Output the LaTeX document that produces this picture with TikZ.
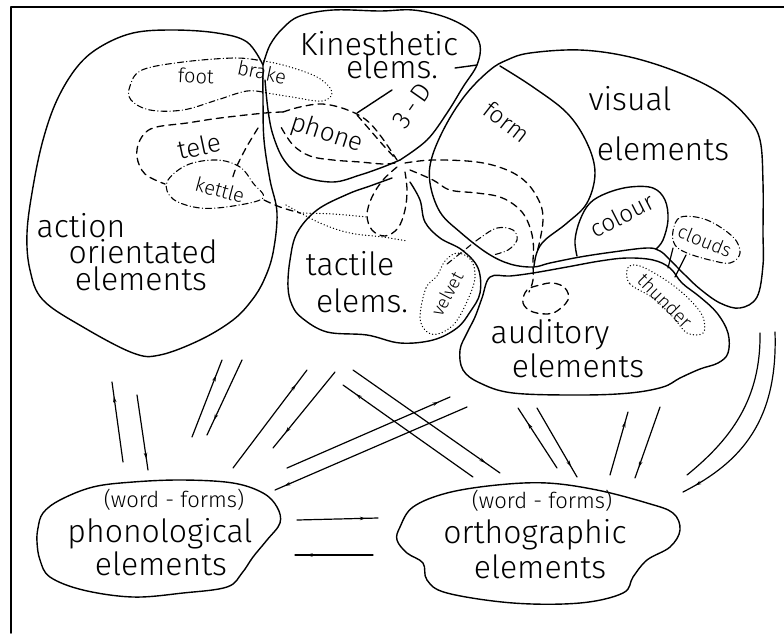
\documentclass[tikz,border=0pt]{standalone}
\usepackage{fontspec}
\setmainfont{Fira Sans}[UprightFont=* Light]
\usetikzlibrary{decorations.markings,arrows.meta}
\begin{document}
\begin{tikzpicture}[x=1pt,y=-1pt,line cap=round,line join=round,
  blob/.style={line width=1.4pt},
  dsh/.style={line width=1.3pt,dash pattern=on 7pt off 5pt},
  ddot/.style={line width=1.1pt,dash pattern=on 6pt off 3pt on 0.3pt off 3pt},
  dots/.style={line width=1.2pt,dash pattern=on 0.3pt off 3pt},
  big/.style={font=\fontsize{32}{32}\selectfont, inner sep=0pt, anchor=base},
  wf/.style={font=\fontsize{22}{22}\selectfont, inner sep=0pt, anchor=base},
  small/.style={font=\fontsize{#1}{#1}\selectfont, inner sep=0pt},
  arr/.style={line width=1.2pt, postaction={decorate},
    decoration={markings, mark=at position #1 with {\arrow{Stealth[length=6pt,width=3.5pt]}}}},
  pl/.style={line width=1.2pt}]
\useasboundingbox (0,0) rectangle (784,633);
% frame
\draw[line width=1.5pt] (11,633) -- (11,7) -- (784,7);

% action oriented elements
\draw[blob] plot[smooth,tension=0.6] coordinates {(263,65) (247,42) (217,33) (173,30) (133,33) (100,47) (77,67) (57,100) (43,140) (33,187) (27,233) (30,270) (43,300) (83,327) (133,353) (160,355) (200,340) (233,320) (252,300) (264,280) (273,253) (277,213) (270,180) (264,140) (263,100) (263,65)};
% kinesthetic
\draw[blob] plot[smooth,tension=0.6] coordinates {(263,65) (270,45) (283,28) (300,16) (333,10) (380,11) (413,10) (445,17) (470,30) (480,45) (477,65) (463,87) (447,113) (427,140) (400,160)};
\draw[blob] plot[smooth,tension=0.6] coordinates {(400,160) (383,167) (360,175) (333,182) (302,176) (284,160) (273,135) (268,110) (265,80)};
\draw[blob] (455,68) -- (477,65);
\draw[blob] (357,113) -- (392,90);
% tactile
\draw[blob] plot[smooth,tension=0.6] coordinates {(392,178) (370,186) (348,194) (317,210) (297,233) (290,260) (288,287) (292,305) (302,318) (327,332) (367,335) (400,343) (433,340) (457,328) (470,312) (480,293) (478,268) (462,250) (440,238) (425,222) (420,200) (410,182)};
% visual
\draw[blob] plot[smooth cycle,tension=0.6] coordinates {(432,157) (447,123) (467,93) (490,70) (507,60) (530,53) (580,50) (630,57) (680,73) (720,93) (747,117) (760,140) (763,183) (763,233) (763,265) (757,297) (740,308) (720,303) (700,289) (685,275) (670,260) (660,251) (647,248) (613,252) (580,257) (550,263) (533,267) (510,264) (487,253) (460,232) (440,212) (430,183)};
% form
\draw[blob] plot[smooth,tension=0.6] coordinates {(500,66) (533,87) (567,113) (587,143) (595,173) (587,203) (567,223) (545,240) (537,252) (534,266)};
% colour
\draw[blob] plot[smooth,tension=0.6] coordinates {(577,256) (575,240) (580,220) (590,203) (607,193) (630,187) (653,188) (665,200) (668,220) (663,240) (656,249)};
% auditory
\draw[blob] plot[smooth cycle,tension=0.6] coordinates {(490,277) (510,276) (533,273) (567,267) (600,261) (627,258) (653,260) (670,268) (682,283) (700,297) (717,313) (728,333) (728,353) (718,363) (700,369) (680,378) (663,387) (630,393) (580,395) (513,393) (480,383) (463,370) (460,350) (467,333) (475,317) (482,298)};
% phonological
\draw[blob] plot[smooth cycle,tension=0.6] coordinates {(43,513) (38,528) (37,542) (40,560) (50,577) (83,590) (133,597) (183,593) (227,587) (242,573) (253,557) (267,540) (280,523) (277,507) (263,493) (233,483) (183,480) (133,482) (93,487) (60,500)};
% orthographic
\draw[blob] plot[smooth cycle,tension=0.6] coordinates {(400,527) (413,507) (447,493) (497,485) (547,483) (597,490) (647,503) (673,513) (680,530) (670,547) (647,560) (633,577) (623,593) (580,603) (513,603) (447,593) (427,580) (423,563) (407,553) (397,540)};

% ---- inner loops ----
% foot brake
\draw[ddot] plot[smooth,tension=0.6] coordinates {(257,60) (233,58) (183,62) (142,70) (130,86) (131,100) (150,110) (183,110) (217,100) (247,91) (267,93)};
\draw[dots] plot[smooth,tension=0.6] coordinates {(257,60) (283,65) (317,77) (332,92) (322,101) (292,97) (267,93)};
% tele
\draw[dsh] plot[smooth,tension=0.6] coordinates {(283,112) (265,113) (220,118) (187,123) (153,128) (140,140) (137,157) (145,174) (165,184)};
\draw[dsh] plot[smooth,tension=0.6] coordinates {(258,128) (246,148) (236,168) (232,180)};
% kettle
\draw[ddot] plot[smooth cycle,tension=0.6] coordinates {(167,182) (187,165) (217,160) (240,167) (253,183) (263,198) (233,206) (200,208) (173,199)};
\draw[dsh] plot[smooth,tension=0.6] coordinates {(264,200) (280,207) (300,213)};
\draw[dots] plot[smooth,tension=0.6] coordinates {(300,213) (333,214) (367,217)};
\draw[dots] plot[smooth,tension=0.6] coordinates {(286,205) (320,223) (350,233) (383,237) (407,241)};
% phone
\draw[dsh] plot[smooth,tension=0.6] coordinates {(283,112) (300,107) (322,104) (345,109) (365,119) (380,135) (397,160)};
\draw[dsh] plot[smooth,tension=0.6] coordinates {(395,163) (383,164) (360,162) (333,160) (310,156) (293,145) (281,127)};
\draw[dsh] plot[smooth,tension=0.6] coordinates {(357,115) (370,130) (383,145) (395,158)};
% tactile dashed loop
\draw[dsh] plot[smooth,tension=0.6] coordinates {(397,167) (383,180) (372,197) (367,215) (372,230) (385,236) (398,228) (405,210) (407,190) (405,172)};
% form dashed curves
\draw[dsh] plot[smooth,tension=0.6] coordinates {(405,163) (433,160) (477,162) (507,170) (527,183) (540,203) (543,220) (540,240) (537,252)};
\draw[dsh] plot[smooth,tension=0.6] coordinates {(410,170) (433,180) (450,190) (477,193) (500,197) (517,207) (527,220) (533,240) (533,263) (533,280) (529,292)};
% form bottom loop + dotted to velvet
\draw[ddot] plot[smooth,tension=0.6] coordinates {(447,264) (462,252) (480,238) (497,228) (513,230) (517,240) (508,250) (493,255)};
% auditory dashed loop
\draw[dsh] plot[smooth cycle,tension=0.6] coordinates {(527,290) (523,303) (533,312) (553,313) (568,300) (565,288) (553,283) (540,285)};
% velvet
\draw[dots] plot[smooth cycle,tension=0.6] coordinates {(437,276) (426,288) (420,317) (426,331) (438,334) (455,323) (469,297) (475,277) (471,260) (457,253) (445,261)};
% clouds
\draw[ddot] plot[smooth cycle,tension=0.6] coordinates {(673,231) (681,217) (707,220) (733,237) (740,253) (730,263) (710,260) (687,253) (675,245)};
% thunder
\draw[dots] plot[smooth cycle,tension=0.6] coordinates {(627,270) (630,284) (653,298) (673,317) (687,333) (703,333) (703,317) (690,300) (670,283) (645,268) (632,265)};
\draw[pl] (673,248) -- (668,268);
\draw[pl] (686,255) -- (675,277);

% ---- labels ----
\node[big] (tAct1) at (81,237) {action};
\node[big] (tAct2) at (143,263) {orientated};
\node[big] (tAct3) at (141,290) {elements};
\node[big] (tKin1) at (379,55) {Kinesthetic};
\node[big] (tKin2) at (392,78) {elems.};
\node[big] (tVis1) at (630,110) {visual};
\node[big] (tVis2) at (663,160) {elements};
\node[big] (tTac1) at (350,275) {tactile};
\node[big] (tTac2) at (362,312) {elems.};
\node[big] (tAud1) at (550,343) {auditory};
\node[big] (tAud2) at (578,377) {elements};
\node[wf] (tPh0) at (174,507) {(word - forms)};
\node[big] (tPh1) at (160,542) {phonological};
\node[big] (tPh2) at (161,575) {elements};
\node[wf] (tOr0) at (542,508) {(word - forms)};
\node[big] (tOr1) at (535,543) {orthographic};
\node[big] (tOr2) at (540,578) {elements};

\node[small=20,rotate=-3] (tFoot) at (196,76) {foot};
\node[small=20,rotate=-12] (tBrake) at (262,72) {brake};
\node[small=26,rotate=12] (tTele) at (199,146) {tele};
\node[small=20,rotate=-15] (tKettle) at (220,190) {kettle};
\node[small=26,rotate=-18] (tPhone) at (327,134) {phone};
\node[small=26,rotate=55] (t3D) at (412,106) {3\,-\,D};
\node[small=24,rotate=-38] (tForm) at (507,122) {form};
\node[small=24,rotate=27] (tColour) at (622,215) {colour};
\node[small=19,rotate=-22] (tClouds) at (705,241) {clouds};
\node[small=19,rotate=-45] (tThunder) at (665,301) {thunder};
\node[small=18,rotate=62] (tVelvet) at (447,294) {velvet};

% ---- arrows ----
\coordinate (a1s) at (123,462); \coordinate (a1e) at (112,382);
\coordinate (b1s) at (137,395); \coordinate (b1e) at (148,470);
\coordinate (a2s) at (192,437); \coordinate (a2e) at (222,360);
\coordinate (b2s) at (242,360); \coordinate (b2e) at (207,435);
\coordinate (a3s) at (233,468); \coordinate (a3e) at (307,370);
\coordinate (b3s) at (335,372); \coordinate (b3e) at (273,448);
\coordinate (a4s) at (353,370); \coordinate (a4e) at (500,473);
\coordinate (b4s) at (473,477); \coordinate (b4e) at (343,385);
\coordinate (a5s) at (287,468); \coordinate (a5e) at (450,397);
\coordinate (b5s) at (467,407); \coordinate (b5e) at (275,490);
\coordinate (a6s) at (557,468); \coordinate (a6e) at (518,408);
\coordinate (b6s) at (537,408); \coordinate (b6e) at (577,477);
\coordinate (a7s) at (610,475); \coordinate (a7e) at (628,412);
\coordinate (b7s) at (660,407); \coordinate (b7e) at (635,478);
\coordinate (a8s) at (760,333); \coordinate (a8e) at (687,475);
\coordinate (b8s) at (775,332); \coordinate (b8e) at (683,492);
\coordinate (a9s) at (297,520); \coordinate (a9e) at (378,518);
\coordinate (b9s) at (373,555); \coordinate (b9e) at (295,555);

\draw[arr=0.82] (a1s) -- (a1e);
\draw[arr=0.85] (b1s) -- (b1e);
\draw[arr=0.8] (a2s) -- (a2e);
\draw[arr=0.8] (b2s) -- (b2e);
\draw[arr=0.85] (a3s) -- (a3e);
\draw[arr=0.8] (b3s) -- (b3e);
\draw[arr=0.9] (a4s) -- (a4e);
\draw[arr=0.9] (b4s) -- (b4e);
\draw[arr=0.93] (a5s) -- (a5e);
\draw[arr=0.95] (b5s) -- (b5e);
\draw[arr=0.75] (a6s) -- (a6e);
\draw[arr=0.85] (b6s) -- (b6e);
\draw[arr=0.85] (a7s) -- (a7e);
\draw[arr=0.85] (b7s) -- (b7e);
\draw[pl] (a8s) .. controls (761,400) and (730,440) .. (a8e);
\draw[arr=0.93] (b8s) .. controls (778,420) and (742,462) .. (b8e);
\draw[arr=0.85] (a9s) -- (a9e);
\draw[arr=0.85] (b9s) -- (b9e);
\end{tikzpicture}
\end{document}
